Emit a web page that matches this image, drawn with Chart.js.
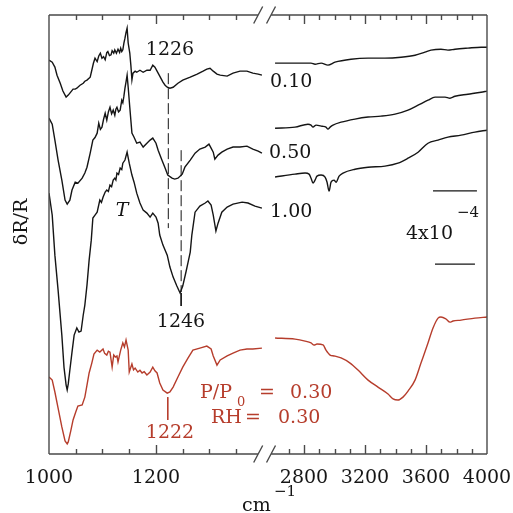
<!DOCTYPE html>
<html>
<head>
<meta charset="utf-8">
<script src="https://cdn.jsdelivr.net/npm/chart.js@4.4.1/dist/chart.umd.min.js"></script>
<style>
  html, body { margin: 0; padding: 0; background: #fff; }
</style>
</head>
<body>
<canvas id="spectra" width="513" height="513"></canvas>
<script>
// Wavenumber (cm-1) vs dR/R in units of 1e-4; traces keep their stacking offset from the figure.
const tickLabels = [1000, 1200, 2800, 3200, 3600, 4000];
const lowTickMarks = [1050, 1100, 1150, 1200, 1250, 1300, 1350];
const highTickMarks = [2700, 2800, 2900, 3000, 3100, 3200, 3300, 3400, 3500, 3600, 3700, 3800, 3900];
const majorTicks = [1200, 2800, 3200, 3600];

const p010Low = [[1000,21.53],[1006,21.42],[1011,21.15],[1015,20.71],[1021,20.27],[1026,19.84],[1032,19.51],[1036,19.62],[1039,19.73],[1045,19.95],[1049,19.95],[1052,20.00],[1058,20.16],[1064,20.27],[1067,20.38],[1071,20.44],[1077,20.60],[1080,20.98],[1083,21.36],[1086,21.64],[1090,21.45],[1093,21.76],[1096,21.91],[1099,21.64],[1102,21.72],[1105,21.55],[1108,21.94],[1110,22.00],[1113,21.78],[1116,21.82],[1118,22.05],[1121,21.91],[1123,22.09],[1126,21.91],[1129,22.13],[1132,21.95],[1134,22.18],[1136,22.00],[1138,22.10],[1140,22.46],[1142,22.73],[1144,23.05],[1146,23.28],[1148,22.47],[1151,21.92],[1153,21.26],[1155,20.45],[1157,20.82],[1161,20.93],[1164,20.87],[1170,20.98],[1176,20.87],[1183,20.98],[1189,20.98],[1194,21.26],[1198,21.15],[1204,20.82],[1207,20.66],[1213,20.33],[1217,20.16],[1221,20.05],[1226,20.00],[1232,20.05],[1241,20.27],[1250,20.44],[1264,20.60],[1277,20.77],[1288,20.93],[1295,21.04],[1301,21.09],[1307,20.93],[1314,20.77],[1320,20.71],[1333,20.66],[1344,20.82],[1357,20.93],[1370,20.93],[1381,20.82],[1391,20.77],[1398,20.71]];
const p050Low = [[1000,18.36],[1006,18.03],[1011,17.16],[1017,16.07],[1024,14.97],[1030,13.88],[1034,13.66],[1039,13.88],[1043,14.43],[1049,14.86],[1054,14.81],[1062,15.08],[1067,15.36],[1071,15.68],[1077,16.45],[1082,17.16],[1086,17.30],[1090,17.54],[1093,18.09],[1096,17.75],[1099,17.87],[1102,18.30],[1105,18.63],[1108,18.25],[1111,18.70],[1114,18.96],[1117,18.60],[1120,18.80],[1123,18.52],[1125,18.85],[1127,18.96],[1130,18.70],[1133,18.80],[1136,19.34],[1138,19.20],[1140,19.56],[1142,20.00],[1144,20.35],[1146,20.71],[1148,20.05],[1151,18.96],[1155,17.54],[1159,17.32],[1164,16.99],[1170,17.05],[1176,16.78],[1183,16.99],[1189,17.16],[1194,17.27],[1200,16.99],[1204,16.61],[1211,16.07],[1217,15.63],[1222,15.25],[1230,15.08],[1235,15.03],[1241,15.08],[1249,15.30],[1254,15.68],[1264,16.07],[1273,16.45],[1282,16.67],[1292,16.78],[1299,16.94],[1303,16.72],[1307,16.50],[1310,16.12],[1316,16.34],[1323,16.50],[1333,16.67],[1344,16.78],[1357,16.78],[1370,16.83],[1381,16.67],[1391,16.56],[1398,16.45]];
const p100Low = [[1000,14.26],[1006,13.06],[1011,10.87],[1017,8.96],[1024,6.50],[1028,4.75],[1032,3.77],[1034,3.50],[1036,3.83],[1039,4.59],[1043,5.57],[1047,6.50],[1052,6.89],[1056,6.67],[1060,6.72],[1064,7.60],[1067,8.14],[1071,9.23],[1075,10.60],[1079,11.69],[1082,12.90],[1086,13.06],[1090,13.22],[1095,13.88],[1098,13.75],[1101,14.04],[1105,14.32],[1108,14.43],[1111,14.35],[1114,14.70],[1117,14.62],[1120,14.97],[1123,15.08],[1125,14.98],[1127,15.36],[1130,15.28],[1133,15.63],[1136,15.55],[1138,15.90],[1142,16.07],[1146,16.50],[1150,15.90],[1155,15.25],[1159,14.86],[1164,14.26],[1170,13.72],[1176,13.33],[1183,13.17],[1189,12.95],[1194,13.17],[1200,12.95],[1204,12.62],[1207,11.97],[1213,11.42],[1221,10.87],[1226,10.22],[1232,9.67],[1239,9.18],[1245,8.80],[1250,9.18],[1256,9.95],[1260,10.49],[1264,11.04],[1267,11.97],[1273,13.22],[1282,13.55],[1292,13.72],[1297,13.83],[1303,13.61],[1307,13.06],[1312,12.19],[1316,12.62],[1323,13.22],[1333,13.50],[1344,13.66],[1361,13.77],[1372,13.72],[1385,13.55],[1398,13.44]];
const rhLow = [[1000,4.21],[1006,4.04],[1011,3.39],[1017,2.51],[1024,1.48],[1030,0.71],[1034,0.55],[1036,0.66],[1041,1.31],[1045,1.86],[1050,2.30],[1054,2.62],[1062,2.68],[1067,3.11],[1071,3.77],[1075,4.43],[1080,4.97],[1084,5.46],[1090,5.68],[1095,5.57],[1101,5.74],[1104,5.50],[1108,5.41],[1111,5.62],[1114,5.57],[1118,4.75],[1121,5.41],[1124,5.30],[1127,5.36],[1129,5.03],[1134,5.68],[1138,6.07],[1141,5.85],[1144,6.23],[1148,5.68],[1150,4.48],[1155,4.92],[1158,4.60],[1161,4.70],[1166,4.48],[1170,4.58],[1174,4.43],[1178,4.50],[1183,4.32],[1189,4.48],[1194,4.75],[1198,4.55],[1202,4.43],[1207,3.88],[1213,3.50],[1221,3.33],[1226,3.39],[1232,3.66],[1241,4.21],[1250,4.75],[1260,5.25],[1269,5.68],[1282,5.79],[1295,5.90],[1303,5.74],[1307,5.36],[1314,4.86],[1320,5.14],[1333,5.36],[1344,5.52],[1357,5.68],[1370,5.74],[1381,5.74],[1398,5.79]];

const p010High = [[2610,21.37],[2695,21.37],[2780,21.37],[2846,21.37],[2872,21.31],[2912,21.37],[2957,21.26],[3003,21.42],[3108,21.58],[3220,21.64],[3331,21.64],[3436,21.69],[3528,21.80],[3593,21.97],[3633,22.08],[3698,22.13],[3744,22.08],[3790,22.13],[3875,22.19],[3961,22.24],[4000,22.24]];
const p050High = [[2610,17.81],[2741,17.87],[2826,18.03],[2846,17.98],[2859,17.87],[2879,17.98],[2918,17.92],[2944,17.87],[2957,17.76],[2971,17.87],[2990,17.98],[3043,18.14],[3134,18.31],[3220,18.42],[3305,18.47],[3397,18.58],[3482,18.80],[3548,19.07],[3613,19.34],[3659,19.51],[3725,19.51],[3757,19.45],[3790,19.56],[3875,19.67],[3961,19.78],[4000,19.84]];
const p100High = [[2610,15.14],[2741,15.30],[2807,15.36],[2833,15.30],[2846,15.08],[2859,14.81],[2872,14.97],[2885,15.19],[2912,15.25],[2938,15.14],[2951,14.86],[2964,14.37],[2977,14.86],[2997,14.97],[3010,14.86],[3030,15.19],[3056,15.36],[3134,15.57],[3220,15.68],[3331,15.74],[3416,15.90],[3482,16.17],[3548,16.50],[3613,16.99],[3679,17.16],[3744,17.32],[3830,17.43],[3921,17.60],[4000,17.70]];
const rhHigh = [[2610,6.34],[2741,6.28],[2807,6.17],[2846,6.07],[2866,5.96],[2885,6.01],[2925,5.96],[2944,5.68],[2971,5.41],[2997,5.36],[3043,5.25],[3102,4.97],[3154,4.59],[3220,4.04],[3285,3.66],[3351,3.28],[3384,3.01],[3416,2.95],[3449,3.11],[3482,3.44],[3528,4.04],[3567,4.97],[3613,6.07],[3646,6.89],[3679,7.43],[3698,7.49],[3731,7.38],[3757,7.21],[3777,7.27],[3830,7.32],[3921,7.43],[4000,7.49]];

// guide lines at the labelled bands, and the 4x10^-4 scale bar
const guide1226 = [[1223,20.82],[1223,12.35]];
const guide1246 = [[1247,16.61],[1247,8.85]];
const stem1246 = [[1247,8.80],[1247,8.09]];
const stem1222 = [[1222,3.11],[1222,1.86]];
const scaleBarTop = [[3646,14.38],[3934,14.38]];
const scaleBarBottom = [[3659,10.38],[3921,10.38]];

// both ranges share one linear axis; the high range is squeezed to the right of the break
const AXIS_END = 1818.7;
const HIGH_SQUEEZE = 0.285;
const BREAK_FROM = 1391, BREAK_TO = 1415;
function toAxis(w) {
  return w < 2000 ? w : AXIS_END - (4000 - w) * HIGH_SQUEEZE;
}

const BLACK = "#151515";
const RED = "#b63d2c";
const SERIF = '"DejaVu Serif", serif';

function trace(points, color, extra) {
  return Object.assign({
    data: points.map(([w, v]) => ({ x: toAxis(w), y: v })),
    borderColor: color,
    borderWidth: 1.4,
    pointRadius: 0,
    tension: 0,
    fill: false
  }, extra || {});
}
const smooth = { cubicInterpolationMode: "monotone" };

const brokenFrame = {
  id: "brokenFrame",
  afterDraw(chart) {
    const { ctx, chartArea: a, scales: { x } } = chart;
    const px = w => x.getPixelForValue(toAxis(w));
    const cutL = x.getPixelForValue(BREAK_FROM);
    const cutR = x.getPixelForValue(BREAK_TO);
    ctx.save();
    ctx.strokeStyle = "#4a4a4a";
    ctx.lineWidth = 1.4;
    ctx.beginPath();
    ctx.moveTo(a.left, a.top); ctx.lineTo(a.left, a.bottom);
    ctx.moveTo(a.right, a.top); ctx.lineTo(a.right, a.bottom);
    [a.top, a.bottom].forEach(y => {
      ctx.moveTo(a.left, y); ctx.lineTo(cutL, y);
      ctx.moveTo(cutR, y); ctx.lineTo(a.right, y);
      [cutL, cutR].forEach(c => { ctx.moveTo(c - 4.5, y + 8.5); ctx.lineTo(c + 4.5, y - 8.5); });
    });
    lowTickMarks.concat(highTickMarks).forEach(w => {
      const len = majorTicks.includes(w) ? 9 : 5;
      const X = Math.round(px(w)) + 0.5;
      ctx.moveTo(X, a.top); ctx.lineTo(X, a.top + len);
      ctx.moveTo(X, a.bottom); ctx.lineTo(X, a.bottom - len);
    });
    ctx.stroke();
    ctx.restore();
  }
};

const annotations = {
  id: "annotations",
  afterDraw(chart) {
    const { ctx, scales: { x } } = chart;
    const put = (text, tx, ty, size, color, align, style) => {
      ctx.font = (style || "") + " " + size + "px " + SERIF;
      ctx.fillStyle = color;
      ctx.textAlign = align || "left";
      ctx.textBaseline = "middle";
      ctx.fillText(text, tx, ty);
    };
    ctx.save();
    tickLabels.forEach(w => put(String(w), x.getPixelForValue(toAxis(w)), 478, 19, BLACK, "center"));
    put("cm", 242, 506, 19, BLACK);
    put("\u22121", 274, 492, 15, BLACK);

    put("1226", 170, 50, 19, BLACK, "center");
    put("1246", 181, 322, 19, BLACK, "center");
    put("0.10", 270, 82, 19, BLACK);
    put("0.50", 269, 153, 19, BLACK);
    put("1.00", 270, 212, 19, BLACK);
    put("T", 122, 211, 19, BLACK, "center", "italic");
    put("4x10", 406, 234, 19, BLACK);
    put("\u22124", 457, 213, 15, BLACK);

    put("1222", 170, 433, 19, RED, "center");
    put("P/P", 200, 393, 19, RED);
    put("0", 237, 403, 13, RED);
    put("=", 259, 393, 19, RED);
    put("0.30", 290, 393, 19, RED);
    put("RH", 211, 418, 19, RED);
    put("=", 245, 418, 19, RED);
    put("0.30", 278, 418, 19, RED);

    ctx.translate(22, 222);
    ctx.rotate(-Math.PI / 2);
    put("\u03b4R/R", 0, 0, 19, BLACK, "center");
    ctx.restore();
  }
};

new Chart(document.getElementById("spectra").getContext("2d"), {
  type: "line",
  data: {
    datasets: [
      trace(p010Low, BLACK), trace(p010High, BLACK, smooth),
      trace(p050Low, BLACK), trace(p050High, BLACK, smooth),
      trace(p100Low, BLACK), trace(p100High, BLACK, smooth),
      trace(rhLow, RED), trace(rhHigh, RED, smooth),
      trace(guide1226, BLACK, { borderWidth: 1, borderDash: [11, 4] }),
      trace(guide1246, BLACK, { borderWidth: 1, borderDash: [11, 4] }),
      trace(stem1246, BLACK, { borderWidth: 1 }),
      trace(stem1222, RED, { borderWidth: 1 }),
      trace(scaleBarTop, BLACK, { borderWidth: 1.2 }),
      trace(scaleBarBottom, BLACK, { borderWidth: 1.2 })
    ]
  },
  options: {
    responsive: false,
    animation: false,
    layout: { padding: { left: 49, top: 15, right: 26, bottom: 59 } },
    scales: {
      x: { type: "linear", display: false, min: 1000, max: AXIS_END },
      y: { display: false, min: 0, max: 24 }
    },
    plugins: { legend: { display: false }, tooltip: { enabled: false } }
  },
  plugins: [brokenFrame, annotations]
});
</script>
</body>
</html>
